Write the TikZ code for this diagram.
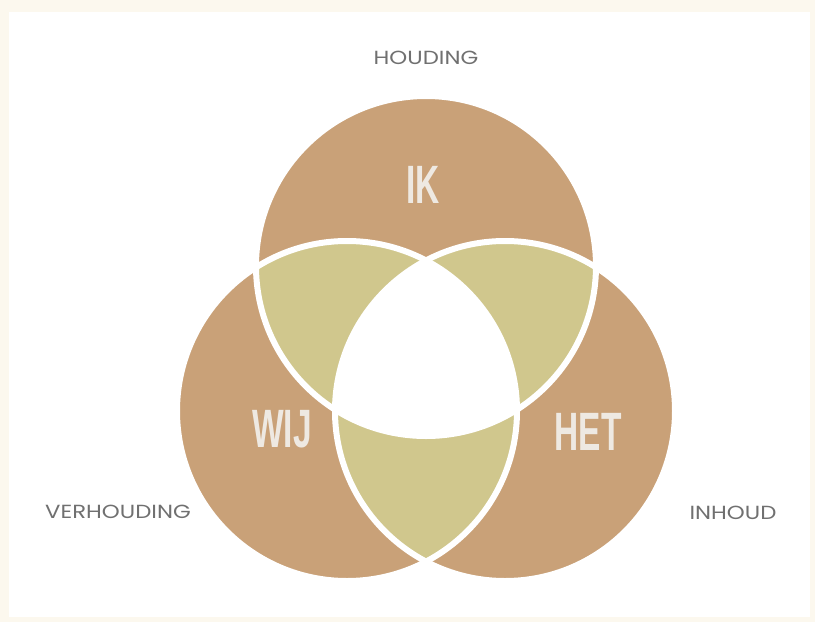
\documentclass[tikz,border=0pt]{standalone}
\usepackage{fontspec}
\setmainfont{Liberation Sans}
\newfontfamily\sidefont{Poppins}
\definecolor{bgcream}{RGB}{252,248,238}
\definecolor{ringbrown}{RGB}{201,161,120}
\definecolor{lensolive}{RGB}{208,199,141}
\definecolor{sidegrey}{RGB}{112,112,112}
\definecolor{wordwhite}{RGB}{238,233,226}
\newcommand{\narrowword}[1]{\scalebox{0.62}[1]{#1}}
\newcommand{\wideword}[1]{\scalebox{1.2}[1]{#1}}
\tikzset{
  ring/.style={fill=ringbrown},
  lens/.style={fill=lensolive},
  rim/.style={draw=white, line width=6pt},
  bigword/.style={font=\bfseries\fontsize{54}{54}\selectfont, text=wordwhite, inner sep=0pt},
  sideword/.style={font=\sidefont\fontsize{19}{19}\selectfont, text=sidegrey, inner sep=0pt}
}

\begin{document}
\begin{tikzpicture}[x=1pt,y=-1pt]
    \fill[bgcream] (0,0) rectangle (815,622);
    \fill[white] (9,12) rectangle (810,617);
    \useasboundingbox (0,0) rectangle (815,622);
    \def\rad{170}
    \coordinate (ik) at (426,266);
    \coordinate (wij) at (347,411);
    \coordinate (het) at (505,411);
    \foreach \c in {ik,wij,het}
      \fill[ring] (\c) circle (\rad);
    \begin{scope}
      \clip (ik) circle (\rad);
      \fill[lens] (wij) circle (\rad);
      \fill[lens] (het) circle (\rad);
    \end{scope}
    \begin{scope}
      \clip (wij) circle (\rad);
      \fill[lens] (het) circle (\rad);
    \end{scope}
    \begin{scope}
      \clip (ik) circle (\rad);
      \clip (wij) circle (\rad);
      \fill[white] (het) circle (\rad);
    \end{scope}
    \foreach \c in {ik,wij,het}
      \draw[rim] (\c) circle (\rad);
    \node (iktext) [bigword] at (423,185) {\narrowword{IK}};
    \node (wijtext) [bigword] at (282,429) {\narrowword{WIJ}};
    \node (hettext) [bigword] at (588,432) {\narrowword{HET}};
    \node (houding) [sideword] at (426,58) {\wideword{HOUDING}};
    \node (verhouding) [sideword] at (118,512) {\wideword{VERHOUDING}};
    \node (inhoud) [sideword] at (733,513) {\wideword{INHOUD}};
  \end{tikzpicture}
\end{document}
